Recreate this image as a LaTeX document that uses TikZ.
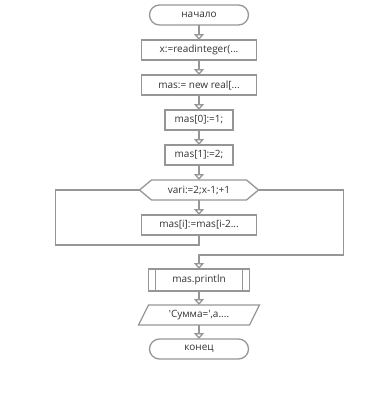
\documentclass[tikz,border=0pt]{standalone}
\usepackage{fontspec}
\setmainfont{Open Sans}
\usetikzlibrary{arrows.meta, positioning}
\definecolor{edge}{RGB}{150,150,150}
\definecolor{ink}{RGB}{50,50,50}

\begin{document}
\begin{tikzpicture}[x=1pt, y=1pt, node distance=15pt,
      every node/.style={font=\fontsize{10}{12}\selectfont, text=ink, inner sep=0pt, outer sep=0pt},
      term/.style={draw=edge, line width=1.3pt, rounded corners=10pt, minimum width=99pt, minimum height=20pt},
      act/.style={draw=edge, line width=1.3pt, minimum width=115pt, minimum height=20pt},
      small/.style={act, minimum width=68pt},
      bare/.style={minimum width=119pt, minimum height=20pt},
      ln/.style={draw=edge, line width=1.3pt},
      ar/.style={-{Triangle[open, length=6pt, width=10pt]}, draw=edge, line width=1.3pt}]
    \useasboundingbox (0,0) rectangle (386,-394);
    \node[term] (st) at (199,-15) {начало};
    \node[act, below=of st] (rd) {x:=readinteger(...};
    \node[act, below=of rd] (nw) {mas:= new real[...};
    \node[small, below=of nw] (m0) {mas[0]:=1;};
    \node[small, below=of m0] (m1) {mas[1]:=2;};
    \node[bare, below=of m1] (lp) {vari:=2;x-1;+1};
    \node[act, below=of lp] (mi) {mas[i]:=mas[i-2...};
    \node[act, minimum width=101pt, minimum height=22pt, below=34pt of mi] (pr) {mas.println};
    \node[bare, minimum width=111pt, below=14pt of pr] (out) {\textquotesingle Сумма=\textquotesingle,a....};
    \node[term, below=14pt of out] (en) {конец};
    % loop header and output shapes
    \draw[ln] (lp.west) -- ([xshift=12pt]lp.north west) -- ([xshift=-12pt]lp.north east) -- (lp.east)
      -- ([xshift=-12pt]lp.south east) -- ([xshift=12pt]lp.south west) -- cycle;
    \draw[ln] ([xshift=7pt]pr.north west) -- ([xshift=7pt]pr.south west);
    \draw[ln] ([xshift=-7pt]pr.north east) -- ([xshift=-7pt]pr.south east);
    \draw[ln] ([xshift=5pt]out.north west) -- ([xshift=5pt]out.north east)
      -- ([xshift=-5pt]out.south east) -- ([xshift=-5pt]out.south west) -- cycle;
    % connectors
    \draw[ar] (st) -- (rd);
    \draw[ar] (rd) -- (nw);
    \draw[ar] (nw) -- (m0);
    \draw[ar] (m0) -- (m1);
    \draw[ar] (m1) -- (lp);
    \draw[ar] (lp) -- (mi);
    \draw[ln] (mi.south) -- ++(0,-10) -| ([xshift=-84pt]lp.west) -- (lp.west);
    \draw[ar] (lp.east) -- ++(85,0) |- ([yshift=14pt]pr.north) -- (pr.north);
    \draw[ar] (pr) -- (out);
    \draw[ar] (out) -- (en);
  \end{tikzpicture}
\end{document}
